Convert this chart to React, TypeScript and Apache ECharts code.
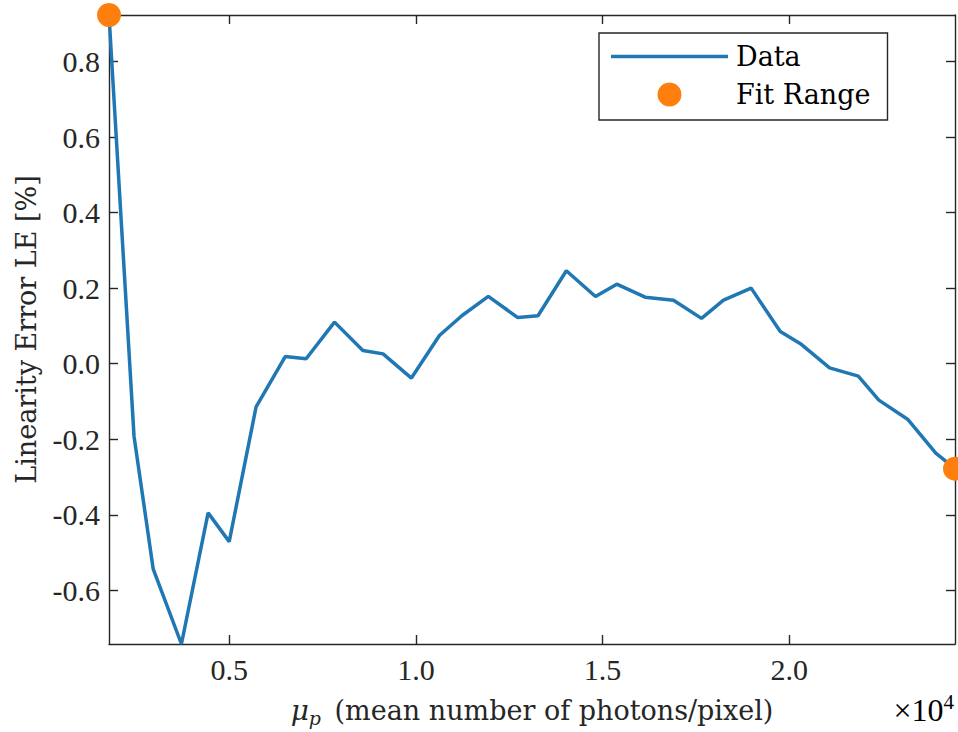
import React, { useEffect, useRef } from "react";
import * as echarts from "echarts";

// Mean number of photons per pixel at each measurement step
const photons = [
  1780, 2450, 2965, 3720, 4435, 5000, 5720, 6500, 7060, 7820, 8580, 9120, 9880,
  10630, 11230, 11940, 12730, 13270, 14030, 14810, 15380, 16140, 16900, 17650,
  18240, 18980, 19760, 20300, 21080, 21850, 22400, 23170, 23925, 24440,
];

// Linearity error LE in percent at each step
const linearityError = [
  0.923, -0.192, -0.544, -0.742, -0.395, -0.471, -0.114, 0.019, 0.013, 0.11,
  0.035, 0.026, -0.038, 0.0745, 0.127, 0.178, 0.122, 0.127, 0.246, 0.178,
  0.2105, 0.176, 0.168, 0.12, 0.168, 0.2, 0.085, 0.053, -0.011, -0.033,
  -0.0965, -0.147, -0.237, -0.278,
];

const xTicks = [5000, 10000, 15000, 20000];
const yTicks = [-0.6, -0.4, -0.2, 0, 0.2, 0.4, 0.6, 0.8];

const AXIS_COLOR = "#262626";
const NUM_FONT = "Liberation Serif";
const TEXT_FONT = "DejaVu Serif";

export default function App() {
  const ref = useRef<HTMLDivElement>(null);

  useEffect(() => {
    document.body.style.margin = "0";
    if (!ref.current) return;
    const chart = echarts.init(ref.current, undefined, { renderer: "svg" });

    const xMin = Math.min(...photons);
    const xMax = Math.max(...photons);
    const yMin = Math.min(...linearityError);
    const yMax = Math.max(...linearityError);

    const linePts = photons.map((p, i) => [p, linearityError[i]]);
    const last = photons.length - 1;
    const fitPts = [
      [photons[0], linearityError[0]],
      [photons[last], linearityError[last]],
    ];

    const axisLine = { show: true, onZero: false, lineStyle: { color: AXIS_COLOR, width: 1.4 } };
    const tickStyle = { color: AXIS_COLOR, width: 1.4 };

    chart.setOption({
      animation: false,
      backgroundColor: "#ffffff",
      grid: { left: 109, right: 3, top: 15, bottom: 85 },
      xAxis: [
        {
          type: "value",
          min: xMin,
          max: xMax,
          axisLine,
          splitLine: { show: false },
          axisTick: { inside: true, length: 9, lineStyle: tickStyle, customValues: xTicks },
          axisLabel: {
            customValues: xTicks,
            formatter: (v: number) => (v / 1e4).toFixed(1),
            fontFamily: NUM_FONT,
            fontSize: 30,
            color: AXIS_COLOR,
            margin: 10,
          },
          name: "{mu|μ}{sub|p} (mean number of photons/pixel)",
          nameLocation: "middle",
          nameGap: 50,
          nameTextStyle: {
            fontFamily: TEXT_FONT,
            fontSize: 27,
            color: AXIS_COLOR,
            rich: {
              mu: { fontFamily: TEXT_FONT, fontSize: 28, fontStyle: "italic", color: AXIS_COLOR },
              sub: {
                fontFamily: TEXT_FONT,
                fontSize: 19,
                fontStyle: "italic",
                color: AXIS_COLOR,
                padding: [14, 5, 0, 0],
              },
            },
          },
        },
        {
          type: "value",
          position: "top",
          min: xMin,
          max: xMax,
          axisLine,
          splitLine: { show: false },
          axisTick: { inside: true, length: 9, lineStyle: tickStyle, customValues: xTicks },
          axisLabel: { show: false },
        },
      ],
      yAxis: [
        {
          type: "value",
          min: yMin,
          max: yMax,
          axisLine,
          splitLine: { show: false },
          axisTick: { inside: true, length: 9, lineStyle: tickStyle, customValues: yTicks },
          axisLabel: {
            customValues: yTicks,
            formatter: (v: number) => v.toFixed(1),
            fontFamily: NUM_FONT,
            fontSize: 30,
            color: AXIS_COLOR,
            margin: 9,
          },
          name: "Linearity Error LE [%]",
          nameLocation: "middle",
          nameGap: 69,
          nameTextStyle: { fontFamily: TEXT_FONT, fontSize: 27, color: AXIS_COLOR },
        },
        {
          type: "value",
          position: "right",
          min: yMin,
          max: yMax,
          axisLine,
          splitLine: { show: false },
          axisTick: { inside: true, length: 9, lineStyle: tickStyle, customValues: yTicks },
          axisLabel: { show: false },
        },
      ],
      legend: {
        left: 599,
        top: 33,
        orient: "vertical",
        backgroundColor: "#ffffff",
        borderColor: AXIS_COLOR,
        borderWidth: 1.4,
        borderRadius: 0,
        padding: [10, 17, 12, 12],
        itemWidth: 117,
        itemHeight: 24,
        itemGap: 11,
        textStyle: { fontFamily: TEXT_FONT, fontSize: 27, color: "#000000", padding: [0, 0, 0, 3] },
        data: [
          { name: "Data", icon: "path://M0,0 L117,0 L117,3.5 L0,3.5 Z" },
          { name: "Fit Range", icon: "circle" },
        ],
      },
      graphic: [
        {
          type: "text",
          right: 4,
          top: 691,
          style: {
            text: "{t|×10}{s|4}",
            rich: {
              t: { fontFamily: NUM_FONT, fontSize: 32, color: AXIS_COLOR },
              s: { fontFamily: NUM_FONT, fontSize: 21, color: AXIS_COLOR, padding: [0, 0, 16, 0] },
            },
          },
        },
      ],
      series: [
        {
          name: "Data",
          type: "line",
          data: linePts,
          showSymbol: false,
          symbol: "none",
          lineStyle: { color: "#1f77b4", width: 3.5 },
          itemStyle: { color: "#1f77b4" },
          z: 2,
        },
        {
          name: "Fit Range",
          type: "scatter",
          data: fitPts,
          symbol: "circle",
          symbolSize: 24,
          clip: false,
          itemStyle: { color: "#ff7f0e", opacity: 1 },
          z: 3,
        },
      ],
    });

    return () => chart.dispose();
  }, []);

  return <div ref={ref} style={{ width: 958, height: 732 }} />;
}
